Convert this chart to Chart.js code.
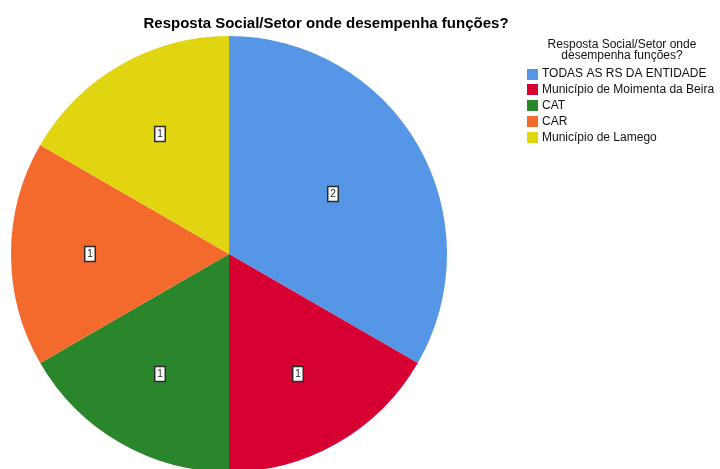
<!DOCTYPE html>
<html lang="pt">
<head>
<meta charset="utf-8">
<title>Resposta Social/Setor onde desempenha funções?</title>
<script src="https://cdn.jsdelivr.net/npm/chart.js@4.4.1/dist/chart.umd.min.js"></script>
<style>
  html, body { margin: 0; padding: 0; background: #ffffff; }
  #quadro { position: relative; width: 720px; height: 469px; overflow: hidden; }
  #grafico { display: block; }
</style>
</head>
<body>
<div id="quadro">
  <canvas id="grafico" width="720" height="480"></canvas>
</div>
<script>
// Dados do gráfico
const tituloGrafico = "Resposta Social/Setor onde desempenha funções?";
const tituloLegenda = ["Resposta Social/Setor onde", "desempenha funções?"];
const categorias = [
    "TODAS AS RS DA ENTIDADE",
    "Município de Moimenta da Beira",
    "CAT",
    "CAR",
    "Município de Lamego"
];
const contagens = [2, 1, 1, 1, 1];
const cores = ["#5596E6", "#D60033", "#2A862B", "#F46A2C", "#E1D511"];

const FONTE = "'Liberation Sans', Arial, sans-serif";

// Rótulos com a contagem, no centróide de cada fatia
const rotulosFatias = {
    id: "rotulosFatias",
    afterDatasetsDraw(chart) {
        const ctx = chart.ctx;
        const meta = chart.getDatasetMeta(0);
        ctx.save();
        ctx.font = "10px " + FONTE;
        ctx.textAlign = "center";
        ctx.textBaseline = "middle";
        meta.data.forEach((arc, i) => {
            const p = arc.getProps(["x", "y", "startAngle", "endAngle", "outerRadius"], true);
            const meio = (p.startAngle + p.endAngle) / 2;
            const metade = (p.endAngle - p.startAngle) / 2;
            const d = 2 * p.outerRadius * Math.sin(metade) / (3 * metade);
            const x = Math.round(p.x + Math.cos(meio) * d);
            const y = Math.round(p.y + Math.sin(meio) * d);
            const texto = String(chart.data.datasets[0].data[i]);
            const w = ctx.measureText(texto).width + 5;
            const h = 15;
            ctx.fillStyle = "#ffffff";
            ctx.fillRect(x - w / 2, y - h / 2, w, h);
            ctx.lineWidth = 1.5;
            ctx.strokeStyle = "#2b2b2b";
            ctx.strokeRect(x - w / 2, y - h / 2, w, h);
            ctx.fillStyle = "#222222";
            ctx.fillText(texto, x, y + 0.5);
        });
        ctx.restore();
    }
};

// Título principal e legenda à direita
const tituloELegenda = {
    id: "tituloELegenda",
    afterDraw(chart) {
        const ctx = chart.ctx;
        ctx.save();
        ctx.fillStyle = "#000000";
        ctx.textBaseline = "middle";

        ctx.font = "bold 15px " + FONTE;
        ctx.textAlign = "center";
        ctx.fillText(tituloGrafico, 326, 24);

        ctx.font = "12px " + FONTE;
        ctx.fillStyle = "#111111";
        tituloLegenda.forEach((linha, i) => ctx.fillText(linha, 622, 45 + i * 11));

        ctx.textAlign = "left";
        chart.data.labels.forEach((rotulo, i) => {
            const y = 74 + i * 15.8;
            ctx.fillStyle = chart.data.datasets[0].backgroundColor[i];
            ctx.fillRect(527, Math.round(y - 5.5), 11, 11);
            ctx.fillStyle = "#111111";
            ctx.fillText(rotulo, 542, y);
        });
        ctx.restore();
    }
};

new Chart(document.getElementById("grafico"), {
    type: "pie",
    data: {
        labels: categorias,
        datasets: [{
            data: contagens,
            backgroundColor: cores,
            borderWidth: 0
        }]
    },
    options: {
        responsive: false,
        animation: false,
        layout: {
            padding: { left: 11, right: 273, top: 36, bottom: 8 }
        },
        plugins: {
            legend: { display: false },
            title: { display: false },
            tooltip: { enabled: false }
        }
    },
    plugins: [rotulosFatias, tituloELegenda]
});
</script>
</body>
</html>
